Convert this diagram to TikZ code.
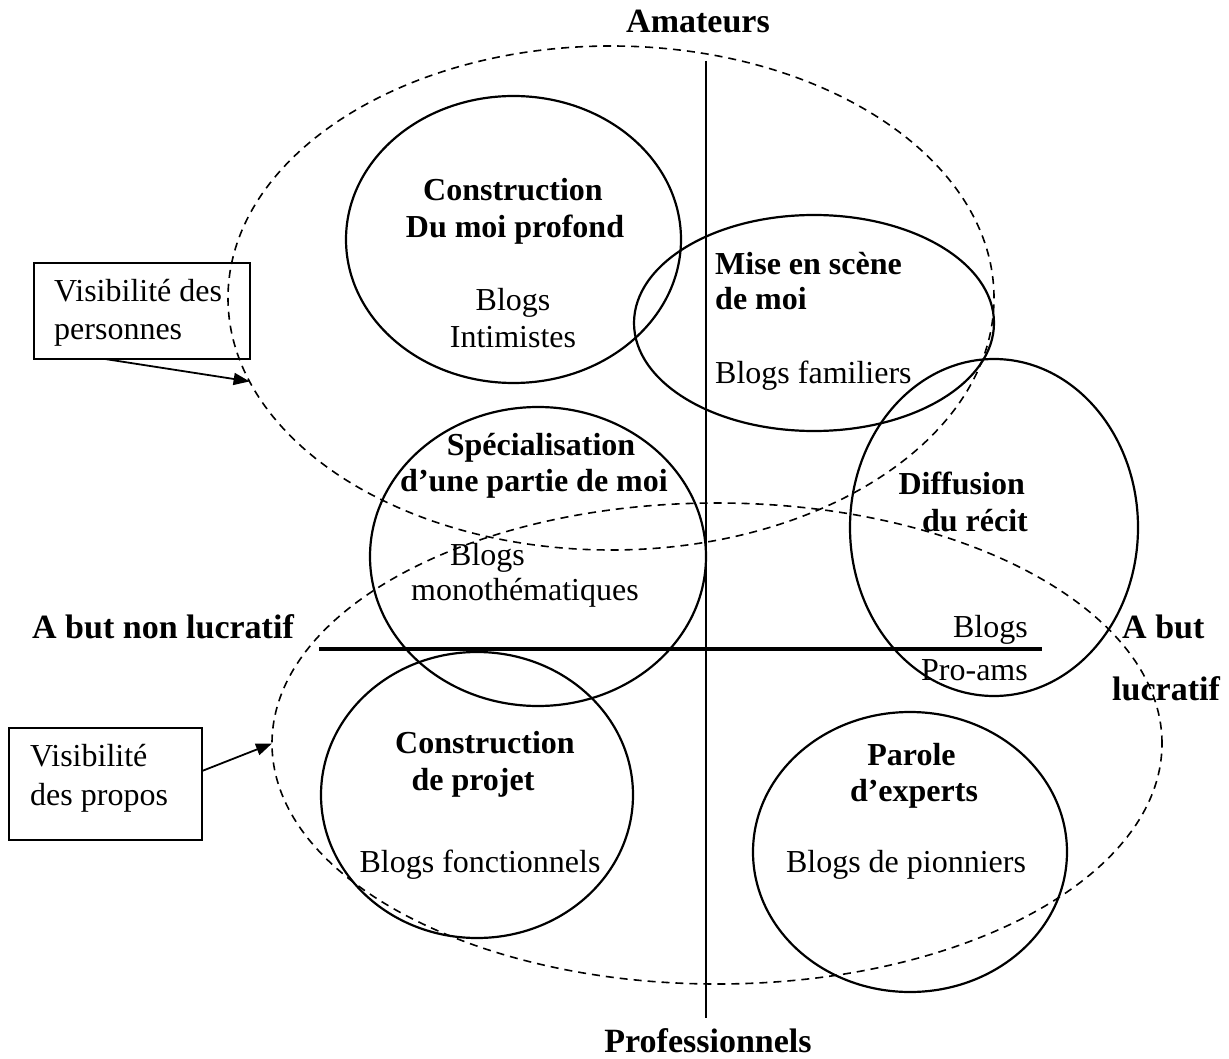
\documentclass[tikz,border=0pt]{standalone}
\usepackage{fontspec}
\setmainfont{Liberation Serif}
\usetikzlibrary{shapes.geometric,arrows.meta,calc}
\begin{document}
\begin{tikzpicture}[x=1pt,y=-1pt,
  zone/.style={ellipse,draw,dash pattern=on 8pt off 6pt,line width=1.6pt,inner sep=0pt,outer sep=0pt},
  blob/.style={ellipse,draw,line width=2.2pt,inner sep=0pt,outer sep=0pt},
  tag/.style={draw,line width=1.8pt,inner sep=0pt,outer sep=0pt},
  axislabel/.style={font=\fontsize{34}{40}\selectfont\bfseries,inner sep=0pt,anchor=base},
  head/.style={font=\fontsize{32}{37}\selectfont\bfseries,inner sep=0pt,anchor=base},
  body/.style={font=\fontsize{32}{37}\selectfont,inner sep=0pt,anchor=base},
  link/.style={line width=1.8pt,-{Triangle[length=16pt,width=12pt]}}
]
\useasboundingbox (0,0) rectangle (1229,1059);

% dashed visibility zones
\node[zone,minimum width=766pt,minimum height=504pt] (pers) at (611,298) {};
\node[zone,minimum width=890pt,minimum height=481pt] (prop) at (717,743.5) {};

% axes
\coordinate (ytop) at (706,61);
\coordinate (ybot) at (706,1018);
\coordinate (xleft) at (319,649);
\coordinate (xright) at (1042,649);
\draw[line width=2.2pt] (ytop) -- (ybot);
\draw[line width=4pt] (xleft) -- (xright);

% blog families
\node[blob,minimum width=335pt,minimum height=287pt] (moi) at (513.5,239.5) {};
\node[blob,minimum width=360pt,minimum height=216pt] (scene) at (814,323) {};
\node[blob,minimum width=288pt,minimum height=337pt] (diff) at (994,527.5) {};
\node[blob,minimum width=336pt,minimum height=299pt] (spec) at (538,556.5) {};
\node[blob,minimum width=312pt,minimum height=286pt] (projet) at (477,795) {};
\node[blob,minimum width=314pt,minimum height=280pt] (expert) at (910,852) {};

% axis labels
\node[axislabel] (amat) at (698,33) {Amateurs};
\node[axislabel] (prof) at (708,1052) {Professionnels};
\node[axislabel,anchor=base west] (nonlu) at (32,638) {A but non lucratif};
\node[axislabel,anchor=base west] (lu1) at (1122,638) {A but};
\node[axislabel,anchor=base west] (lu2) at (1112,700) {lucratif};

% texts in the circles
\node[head] (t1a) at (513,201) {Construction};
\node[head] (t1b) at (515,238) {Du moi profond};
\node[body] (t1c) at (513,311) {Blogs};
\node[body] (t1d) at (513,348) {Intimistes};

\node[head,anchor=base west] (t2a) at (715,275) {Mise en scène};
\node[head,anchor=base west] (t2b) at (715,310) {de moi};
\node[body,anchor=base west] (t2c) at (715,383) {Blogs familiers};

\node[head,anchor=base east] (t3a) at (1025,494) {Diffusion};
\node[head,anchor=base east] (t3b) at (1028,531) {du récit};
\node[body,anchor=base east] (t3c) at (1028,637) {Blogs};
\node[body,anchor=base east] (t3d) at (1028,680) {Pro-ams};

\node[head] (t4a) at (541,455) {Spécialisation};
\node[head] (t4b) at (534,491) {d’une partie de moi};
\node[body,anchor=base west] (t4c) at (450,565) {Blogs};
\node[body] (t4d) at (525,600) {monothématiques};

\node[head] (t5a) at (485,753) {Construction};
\node[head] (t5b) at (473,790) {de projet};
\node[body] (t5c) at (480,872.5) {Blogs fonctionnels};

\node[head] (t6a) at (911.5,765) {Parole};
\node[head] (t6b) at (914,801.6) {d’experts};
\node[body] (t6c) at (906,872.5) {Blogs de pionniers};

% callout boxes
\node[tag,minimum width=216.4pt,minimum height=96pt] (pbox) at (141.8,311) {};
\node[body,anchor=base west] (pb1) at (54,302) {Visibilité des};
\node[body,anchor=base west] (pb2) at (54,339.5) {personnes};

\node[tag,minimum width=193.3pt,minimum height=112pt] (qbox) at (105.35,784) {};
\node[body,anchor=base west] (qb1) at (30,766) {Visibilité};
\node[body,anchor=base west] (qb2) at (30,805) {des propos};

% callout arrows
\draw[link] ($(pbox.south west)!0.33!(pbox.south east)$) -- (pers.193.2);
\draw[link] ($(qbox.north east)!0.384!(qbox.south east)$) -- (prop.180);
\end{tikzpicture}
\end{document}
